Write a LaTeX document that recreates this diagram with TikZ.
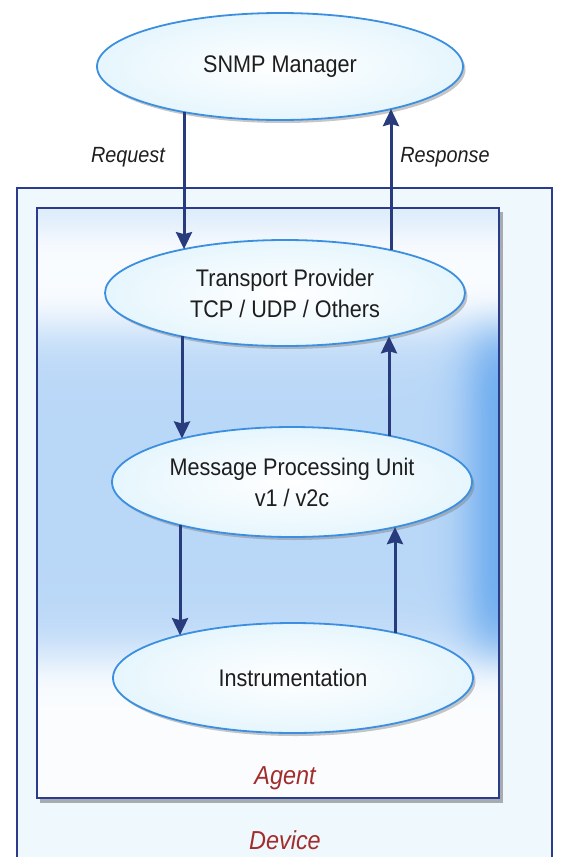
\documentclass[tikz,border=0pt]{standalone}
\usepackage{fontspec}
\setmainfont{Liberation Sans}[FakeStretch=0.9]
\usetikzlibrary{shapes.geometric,arrows.meta,shadows}
\definecolor{navy}{HTML}{283B7C}
\definecolor{ellborder}{HTML}{3C8FE0}
\definecolor{ellfill}{HTML}{E6F6FD}
\definecolor{devfill}{HTML}{EEF8FD}
\definecolor{boxline}{HTML}{2B3C8C}
\definecolor{lblred}{HTML}{A32C2C}
\definecolor{txt}{HTML}{1E1E1E}
% x y in 0..100bp; the path covers 25..75
\pgfdeclarefunctionalshading{agentshade}{\pgfpoint{0bp}{0bp}}{\pgfpoint{100bp}{100bp}}{}{
  25 sub 2 mul exch 25 sub 2 mul exch
  dup 52 sub 29 div dup mul dup mul dup mul neg 2.71828 exch exp
  1 index 100 exch sub 5 div dup mul neg 2.71828 exch exp 0.15 mul
  3 index 100 exch sub 8 div dup mul neg 2.71828 exch exp 0.4 mul 0.36 add
  2 index mul add
  4 1 roll pop pop pop
  0.03 add
  dup 0.70 mul 1 exch sub
  exch dup 0.40 mul 1 exch sub
  exch 0.08 mul 1 exch sub
}
\newcommand\edy[5]{\pgfmathsetmacro#1{#5*#4*sqrt(1-((#3)/#2)^2)}}
\tikzset{
  ell/.style={ellipse, draw=ellborder, line width=1.8pt, inner color=white,
    outer color=ellfill, inner sep=0pt, outer sep=0pt, align=center,
    font=\fontsize{24}{31}\selectfont, text=txt,
    drop shadow={shadow xshift=2.5pt, shadow yshift=-3pt, opacity=0.45}},
  arr/.style={draw=navy, line width=3pt,
    -{Stealth[length=17pt,width=16pt,inset=2pt]}},
  lbl/.style={font=\fontsize{22}{26}\selectfont\itshape, text=txt},
  boxlbl/.style={font=\fontsize{26}{30}\selectfont\itshape, text=lblred},
  devbox/.style={draw=boxline, line width=1.4pt, fill=devfill},
  agentbox/.style={draw=boxline, line width=2pt}
}
\begin{document}
\begin{tikzpicture}[x=1pt,y=1pt]
\useasboundingbox (0,0) rectangle (568,-857);
% Device
\draw[devbox] (17,-188) rectangle (552,-875);
% Agent
\fill[black, opacity=0.3] (40,-212) rectangle (503,-803);
\shade[shading=agentshade] (37,-208) rectangle (499,-798);
\draw[agentbox] (37,-208) rectangle (499,-798);
% nodes
\node[ell, minimum width=366pt, minimum height=107pt] (mgr) at (280,-66.5) {SNMP Manager};
\node[ell, minimum width=360pt, minimum height=106pt] (tp) at (285,-293) {Transport Provider\\TCP / UDP / Others};
\node[ell, minimum width=360pt, minimum height=110pt] (mpu) at (292,-482) {Message Processing Unit\\v1 / v2c};
\node[ell, minimum width=360pt, minimum height=110pt] (ins) at (293,-678) {Instrumentation};
\node[lbl] (req) at (128,-157) {Request};
\node[lbl] (resp) at (445,-157) {Response};
\node[boxlbl] (agent) at (285,-778) {Agent};
\node[boxlbl] (device) at (285,-840) {Device};
% connectors (vertical, end points on the ellipse borders)
\edy\dA{183}{-96}{53.5}{-1}\edy\dB{180}{-101}{53}{1}
\draw[arr] ([shift={(-96,\dA)}]mgr.center) -- ([shift={(-101,\dB)}]tp.center);
\edy\dA{180}{106}{53}{1}\edy\dB{183}{111}{53.5}{-1}
\draw[arr] ([shift={(106,\dA)}]tp.center) -- ([shift={(111,\dB)}]mgr.center);
\edy\dA{180}{-103}{53}{-1}\edy\dB{180}{-110}{55}{1}
\draw[arr] ([shift={(-103,\dA)}]tp.center) -- ([shift={(-110,\dB)}]mpu.center);
\edy\dA{180}{97}{55}{1}\edy\dB{180}{104}{53}{-1}
\draw[arr] ([shift={(97,\dA)}]mpu.center) -- ([shift={(104,\dB)}]tp.center);
\edy\dA{180}{-112}{55}{-1}\edy\dB{180}{-113}{55}{1}
\draw[arr] ([shift={(-112,\dA)}]mpu.center) -- ([shift={(-113,\dB)}]ins.center);
\edy\dA{180}{102}{55}{1}\edy\dB{180}{103}{55}{-1}
\draw[arr] ([shift={(102,\dA)}]ins.center) -- ([shift={(103,\dB)}]mpu.center);
\end{tikzpicture}
\end{document}
